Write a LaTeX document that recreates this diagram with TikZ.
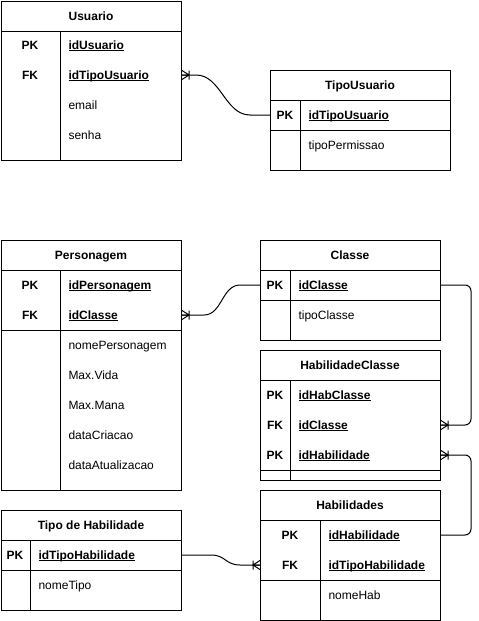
\documentclass[tikz,border=0pt]{standalone}
\usepackage{fontspec}
\setmainfont{Liberation Sans}
\usetikzlibrary{calc}
\newcommand\keyul[1]{\setbox0=\hbox{#1}\rlap{\rule[-1.7pt]{\wd0}{0.7pt}}\box0}
\tikzset{
  tbl/.style={draw, line width=1pt, minimum width=180pt, anchor=north west, inner sep=0pt},
  ttl/.style={font=\fontsize{12}{14}\selectfont\bfseries, anchor=center, inner sep=0pt, text height=8.6pt, text depth=0pt},
  keylbl/.style={ttl},
  fld/.style={font=\fontsize{12}{14}\selectfont, anchor=west, inner sep=0pt, text height=8.6pt, text depth=0pt},
  kfld/.style={fld, font=\fontsize{12}{14}\selectfont\bfseries},
  conn/.style={line width=1pt},
  crowR/.pic={\draw[line width=1pt] (0,-4.5) -- (7,0) -- (0,4.5) (0,0) -- (7,0) (7,-4.5) -- (7,4.5);}
}
\begin{document}
\begin{tikzpicture}[x=1pt,y=-1pt,line width=1pt]
\useasboundingbox (0,0) rectangle (479,621);
% ---------- Usuario
\node[tbl, minimum height=159pt] (usuario) at (1,1) {};
\draw (1,31) -- (181,31) (60,31) -- (60,160);
\node[ttl] (usuT) at (91,16) {Usuario};
\node[keylbl] (usuK1) at (30,45) {PK};
\node[keylbl] (usuK2) at (30,75) {FK};
\node[kfld] (usu1) at (68,45) {\keyul{idUsuario}};
\node[kfld] (usu2) at (68,75) {\keyul{idTipoUsuario}};
\node[fld] (usu3) at (68,105) {email};
\node[fld] (usu4) at (68,135) {senha};
% ---------- TipoUsuario
\node[tbl, minimum height=100pt] (tipousu) at (270,70) {};
\draw (270,100) -- (450,100) (270,130) -- (450,130) (300,100) -- (300,170);
\node[ttl] (tuT) at (360,85) {TipoUsuario};
\node[keylbl] (tuK1) at (285,115) {PK};
\node[kfld] (tu1) at (308,115) {\keyul{idTipoUsuario}};
\node[fld] (tu2) at (308,145) {tipoPermissao};
% ---------- Personagem
\node[tbl, minimum height=250pt] (pers) at (1,240) {};
\draw (1,270) -- (181,270) (1,330) -- (181,330) (60,270) -- (60,490);
\node[ttl] (peT) at (91,255) {Personagem};
\node[keylbl] (peK1) at (30,285) {PK};
\node[keylbl] (peK2) at (30,315) {FK};
\node[kfld] (pe1) at (68,285) {\keyul{idPersonagem}};
\node[kfld] (pe2) at (68,315) {\keyul{idClasse}};
\node[fld] (pe3) at (68,345) {nomePersonagem};
\node[fld] (pe4) at (68,375) {Max.Vida};
\node[fld] (pe5) at (68,405) {Max.Mana};
\node[fld] (pe6) at (68,435) {dataCriacao};
\node[fld] (pe7) at (68,465) {dataAtualizacao};
% ---------- Classe
\node[tbl, minimum height=100pt] (classe) at (260,240) {};
\draw (260,270) -- (440,270) (260,300) -- (440,300) (290,270) -- (290,340);
\node[ttl] (clT) at (350,255) {Classe};
\node[keylbl] (clK1) at (275,285) {PK};
\node[kfld] (cl1) at (298,285) {\keyul{idClasse}};
\node[fld] (cl2) at (298,315) {tipoClasse};
% ---------- HabilidadeClasse
\node[tbl, minimum height=130pt] (habcl) at (260,350) {};
\draw (260,380) -- (440,380) (260,470) -- (440,470) (290,380) -- (290,480);
\node[ttl] (hcT) at (350,365) {HabilidadeClasse};
\node[keylbl] (hcK1) at (275,395) {PK};
\node[keylbl] (hcK2) at (275,425) {FK};
\node[keylbl] (hcK3) at (275,455) {PK};
\node[kfld] (hc1) at (298,395) {\keyul{idHabClasse}};
\node[kfld] (hc2) at (298,425) {\keyul{idClasse}};
\node[kfld] (hc3) at (298,455) {\keyul{idHabilidade}};
% ---------- Habilidades
\node[tbl, minimum height=130pt] (habs) at (260,490) {};
\draw (260,520) -- (440,520) (260,580) -- (440,580) (320,520) -- (320,620);
\node[ttl] (hbT) at (350,505) {Habilidades};
\node[keylbl] (hbK1) at (290,535) {PK};
\node[keylbl] (hbK2) at (290,565) {FK};
\node[kfld] (hb1) at (328,535) {\keyul{idHabilidade}};
\node[kfld] (hb2) at (328,565) {\keyul{idTipoHabilidade}};
\node[fld] (hb3) at (328,595) {nomeHab};
% ---------- Tipo de Habilidade
\node[tbl, minimum height=100pt] (tipohab) at (1,510) {};
\draw (1,540) -- (181,540) (1,570) -- (181,570) (30,540) -- (30,610);
\node[ttl] (thT) at (91,525) {Tipo de Habilidade};
\node[keylbl] (thK1) at (15,555) {PK};
\node[kfld] (th1) at (38,555) {\keyul{idTipoHabilidade}};
\node[fld] (th2) at (38,585) {nomeTipo};
% ---------- connectors
\draw[conn] (usuario.east |- usu2) -- ++(14,0)
  .. controls +(25,0) and +(-25,0) .. ($(tipousu.west |- tu1)+(-20,0)$) -- (tipousu.west |- tu1);
\pic at (usuario.east |- usu2) {crowR};
\draw[conn] (pers.east |- pe2) -- ++(22,0)
  .. controls +(18,0) and +(-18,0) .. ($(classe.west |- cl1)+(-20,0)$) -- (classe.west |- cl1);
\pic at (pers.east |- pe2) {crowR};
\draw[conn, rounded corners=6pt] (classe.east |- cl1) -- ++(30,0) |- (habcl.east |- hc2);
\pic at (habcl.east |- hc2) {crowR};
\draw[conn, rounded corners=6pt] (habcl.east |- hc3) -- ++(30,0) |- (habs.east |- hb1);
\pic at (habcl.east |- hc3) {crowR};
\draw[conn] (tipohab.east |- th1) -- ++(29,0)
  .. controls +(15,0) and +(-15,0) .. ($(habs.west |- hb2)+(-20,0)$) -- (habs.west |- hb2);
\pic[rotate=180] at (habs.west |- hb2) {crowR};
\end{tikzpicture}
\end{document}
